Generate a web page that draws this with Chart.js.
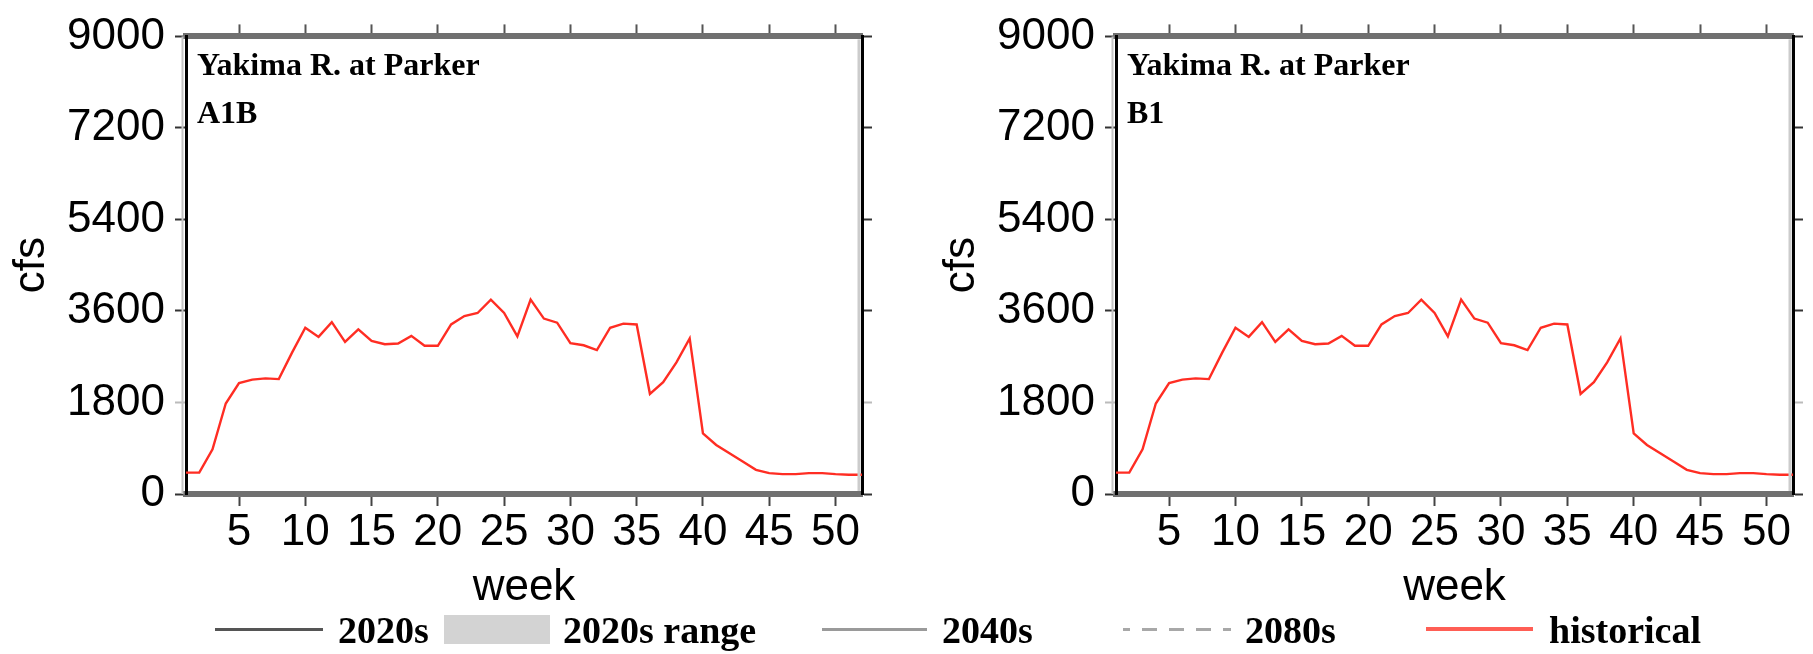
<!DOCTYPE html>
<html>
<head>
<meta charset="utf-8">
<script src="https://cdn.jsdelivr.net/npm/chart.js@4.4.1/dist/chart.umd.min.js"></script>
<style>
  html, body { margin: 0; padding: 0; background: #fff; }
  #wrap { position: relative; width: 1813px; height: 654px; overflow: hidden; background: #fff; }
  canvas { position: absolute; top: 0; }
  .lg { position: absolute; }
  .lt { position: absolute; font: bold 38px "Liberation Serif", "Times New Roman", serif; line-height: 38px; color: #000; white-space: nowrap; }
</style>
</head>
<body>
<div id="wrap">
  <canvas id="c1" width="900" height="654" style="left:0px"></canvas>
  <canvas id="c2" width="883" height="654" style="left:930px"></canvas>

  <div class="lg" style="left:215px; top:628px; width:108px; height:3px; background:#555;"></div>
  <div class="lt" style="left:338px; top:611px;">2020s</div>
  <div class="lg" style="left:444px; top:615px; width:106px; height:29px; background:#d3d3d3;"></div>
  <div class="lt" style="left:563px; top:611px;">2020s range</div>
  <div class="lg" style="left:822px; top:628px; width:105px; height:3px; background:#9a9a9a;"></div>
  <div class="lt" style="left:942px; top:611px;">2040s</div>
  <div class="lg" style="left:1123px; top:628px; width:108px; height:3px; background:repeating-linear-gradient(to right, #a8a8a8 0px, #a8a8a8 15px, transparent 15px, transparent 27px); background-position:-8px 0;"></div>
  <div class="lt" style="left:1245px; top:611px;">2080s</div>
  <div class="lg" style="left:1426px; top:627px; width:107px; height:4px; background:#ff5e55;"></div>
  <div class="lt" style="left:1549px; top:611px;">historical</div>
</div>
<script>
// ---- data ----
const weeks = [1,2,3,4,5,6,7,8,9,10,11,12,13,14,15,16,17,18,19,20,21,22,23,24,25,26,
               27,28,29,30,31,32,33,34,35,36,37,38,39,40,41,42,43,44,45,46,47,48,49,50,51,52];
const historicalA1B = [420,420,880,1780,2180,2250,2275,2260,2780,3270,3090,3380,2990,3240,3010,2945,
                       2960,3110,2915,2915,3335,3500,3560,3820,3560,3100,3822,3450,3370,2965,2925,2830,
                       3270,3350,3335,1970,2200,2590,3060,1190,965,800,640,476,410,390,390,410,410,390,380,380];
const historicalB1 = [420,420,880,1780,2180,2250,2275,2260,2780,3270,3090,3380,2990,3240,3010,2945,
                      2960,3110,2915,2915,3335,3500,3560,3820,3560,3100,3822,3450,3370,2965,2925,2830,
                      3270,3350,3335,1970,2200,2590,3060,1190,965,800,640,476,410,390,390,410,410,390,380,380];
const xTicks = [5,10,15,20,25,30,35,40,45,50];
const yTicks = [0,1800,3600,5400,7200,9000];
const siteName = "Yakima R. at Parker";
const scenarios = ["A1B", "B1"];

Chart.defaults.font.family = "'Liberation Sans', Arial, Helvetica, sans-serif";
Chart.defaults.color = '#000';

const notes = {
  id: 'notes',
  afterDraw(chart, args, opts) {
    const {ctx, chartArea} = chart;
    ctx.save();
    // subtle light-gray shading beside the black vertical frame lines
    ctx.fillStyle = '#c4c4c4';
    ctx.fillRect(chartArea.left - 4.5, chartArea.top, 2, chartArea.bottom - chartArea.top);
    ctx.fillStyle = '#cccccc';
    ctx.fillRect(chartArea.right - 4.5, chartArea.top + 3, 3, chartArea.bottom - chartArea.top - 6);
    ctx.fillStyle = '#000';
    ctx.font = 'bold 32px "Liberation Serif", "Times New Roman", serif';
    ctx.textBaseline = 'alphabetic';
    ctx.textAlign = 'left';
    ctx.fillText(opts.site, chartArea.left + 11, 75);
    ctx.fillText(opts.scen, chartArea.left + 11, 123);
    ctx.restore();
  }
};

function setTicks(list) {
  return function(scale) { scale.ticks = list.map(v => ({value: v})); };
}
const tickCol = ctx => (ctx.tick && ctx.tick.value === 1800) ? '#bbbbbb' : '#333333';
const plain = v => String(v);

function makeChart(id, scen, values, rightWidth) {
  return new Chart(document.getElementById(id), {
    type: 'line',
    data: {
      datasets: [{
        label: 'historical',
        data: weeks.map((w, i) => ({x: w, y: values[i]})),
        borderColor: 'rgb(255,45,35)',
        borderWidth: 2.4,
        pointRadius: 0,
        tension: 0,
        fill: false
      }]
    },
    options: {
      responsive: false,
      animation: false,
      devicePixelRatio: 1,
      layout: { padding: 0 },
      plugins: {
        legend: { display: false },
        tooltip: { enabled: false },
        notes: { site: siteName, scen: scen }
      },
      scales: {
        x: {
          type: 'linear', position: 'bottom', min: 1, max: 52,
          afterBuildTicks: setTicks(xTicks),
          ticks: { autoSkip: false, maxRotation: 0, minRotation: 0, padding: 0, font: { size: 44 }, color: '#000', callback: plain },
          grid: { drawOnChartArea: false, drawTicks: true, tickLength: 12, tickWidth: 2, tickColor: '#444' },
          border: { display: true, color: '#707070', width: 6 },
          title: { display: true, text: 'week', font: { size: 44 }, color: '#000', padding: { top: 0, bottom: 40 } },
          afterFit: s => { s.height = 160; }
        },
        x2: {
          type: 'linear', position: 'top', min: 1, max: 52,
          afterBuildTicks: setTicks(xTicks),
          ticks: { display: false },
          grid: { drawOnChartArea: false, drawTicks: true, tickLength: 12, tickWidth: 2, tickColor: '#555' },
          border: { display: true, color: '#707070', width: 6 },
          afterFit: s => { s.height = 30; }
        },
        y: {
          type: 'linear', position: 'left', min: 0, max: 9000,
          afterBuildTicks: setTicks(yTicks),
          ticks: { padding: 10, font: { size: 44 }, color: '#000', callback: plain },
          grid: { drawOnChartArea: false, drawTicks: true, tickLength: 11, tickWidth: 2, tickColor: tickCol },
          border: { display: true, color: '#000', width: 3 },
          title: { display: true, text: 'cfs', font: { size: 44 }, color: '#000', padding: { top: 5, bottom: 0 } },
          afterFit: s => { s.width = 186; }
        },
        y2: {
          type: 'linear', position: 'right', min: 0, max: 9000,
          afterBuildTicks: setTicks(yTicks),
          ticks: { display: false },
          grid: { drawOnChartArea: false, drawTicks: true, tickLength: 10, tickWidth: 2, tickColor: tickCol },
          border: { display: true, color: '#000', width: 3 },
          afterFit: s => { s.width = rightWidth; }
        }
      }
    },
    plugins: [notes]
  });
}

makeChart('c1', scenarios[0], historicalA1B, 38);
makeChart('c2', scenarios[1], historicalB1, 20);
</script>
</body>
</html>
